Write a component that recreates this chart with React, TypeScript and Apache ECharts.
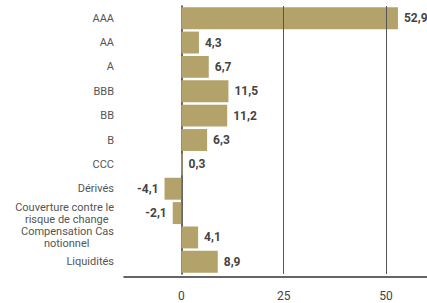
import React, { useEffect, useRef } from "react";
import * as echarts from "echarts";

const categories = [
  "AAA",
  "AA",
  "A",
  "BBB",
  "BB",
  "B",
  "CCC",
  "Dérivés",
  "Couverture contre le\nrisque de change\u00a0\u00a0",
  "Compensation Cas\nnotionnel\u00a0\u00a0\u00a0\u00a0\u00a0\u00a0\u00a0\u00a0\u00a0",
  "Liquidités",
];
const values = [52.9, 4.3, 6.7, 11.5, 11.2, 6.3, 0.3, -4.1, -2.1, 4.1, 8.9];
const xTicks = [0, 25, 50];
const gridLines = [25, 50];

const BAR = "#b3a269";
const FONT = "Roboto, 'Liberation Sans', sans-serif";

export default function App() {
  const ref = useRef<HTMLDivElement>(null);
  useEffect(() => {
    if (!ref.current) return;
    const chart = echarts.init(ref.current, undefined, { renderer: "svg" });
    chart.setOption({
      animation: false,
      textStyle: { fontFamily: FONT },
      grid: {
        left: 124,
        right: 0,
        top: 6,
        height: 268,
        containLabel: false,
        outerBoundsMode: "none",
      },
      xAxis: {
        type: "value",
        min: -14,
        max: 60,
        offset: 3,
        axisLine: { show: true, onZero: false, lineStyle: { color: "#333", width: 1.5 } },
        axisTick: { show: false },
        splitLine: { show: false },
        axisLabel: {
          customValues: xTicks,
          color: "#444",
          fontSize: 12,
          margin: 13,
          fontFamily: FONT,
        },
      },
      yAxis: {
        type: "category",
        inverse: true,
        data: categories,
        axisLine: { show: true, onZero: true, lineStyle: { color: "#333", width: 1.5 } },
        axisTick: { show: false },
        axisLabel: {
          color: "#555",
          fontSize: 11,
          lineHeight: 12,
          margin: 10,
          fontFamily: FONT,
        },
      },
      series: [
        {
          type: "bar",
          barCategoryGap: "10%",
          itemStyle: { color: BAR },
          data: values.map((v) => ({
            value: v,
            label: { position: v < 0 ? "left" : "right" },
          })),
          label: {
            show: true,
            distance: 6,
            color: "#444",
            fontWeight: "bold",
            fontSize: 12,
            fontFamily: FONT,
            formatter: (p: any) => Number(p.value).toFixed(1).replace(".", ","),
          },
          markLine: {
            silent: true,
            symbol: "none",
            label: { show: false },
            lineStyle: { color: "#555", type: "solid", width: 1 },
            data: gridLines.map((g) => ({ xAxis: g })),
          },
        },
      ],
    });
    return () => chart.dispose();
  }, []);
  return <div ref={ref} style={{ width: 427, height: 303, position: "absolute", left: 0, top: 0 }} />;
}
